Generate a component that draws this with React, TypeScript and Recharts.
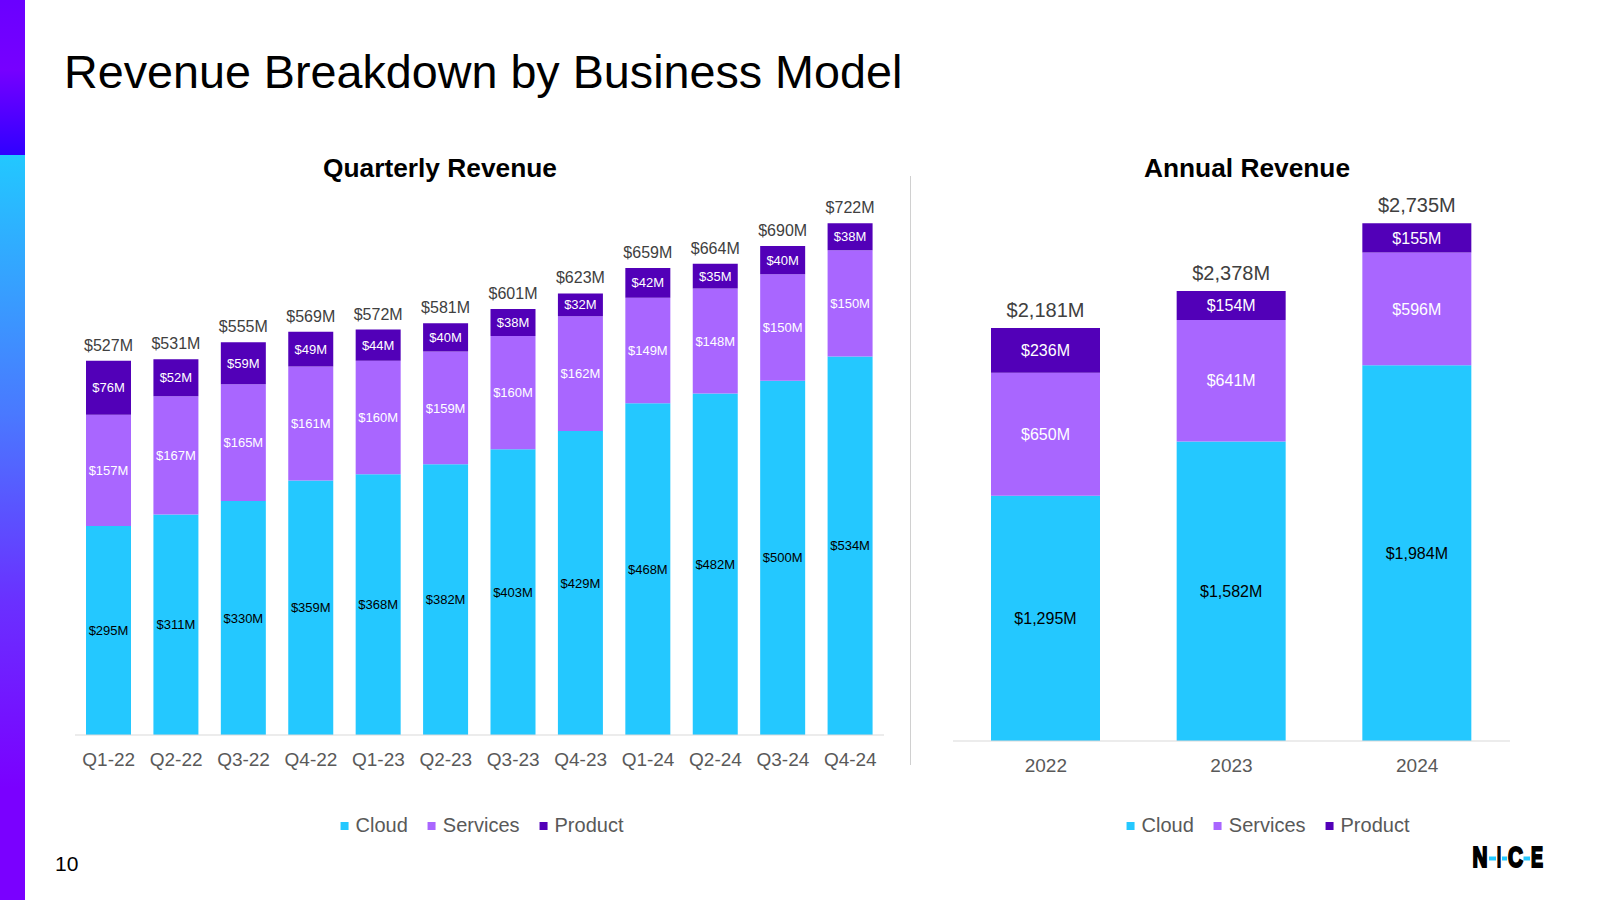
import { Bar, BarChart, LabelList, XAxis, YAxis } from "recharts";

const quarters = ["Q1-22", "Q2-22", "Q3-22", "Q4-22", "Q1-23", "Q2-23", "Q3-23", "Q4-23", "Q1-24", "Q2-24", "Q3-24", "Q4-24"];
const qCloud = [295, 311, 330, 359, 368, 382, 403, 429, 468, 482, 500, 534];
const qServices = [157, 167, 165, 161, 160, 159, 160, 162, 149, 148, 150, 150];
const qProduct = [76, 52, 59, 49, 44, 40, 38, 32, 42, 35, 40, 38];
const qTotal = [527, 531, 555, 569, 572, 581, 601, 623, 659, 664, 690, 722];

const years = ["2022", "2023", "2024"];
const yCloud = [1295, 1582, 1984];
const yServices = [650, 641, 596];
const yProduct = [236, 154, 155];
const yTotal = [2181, 2378, 2735];

const CLOUD = "#24c8ff";
const SERVICES = "#a966ff";
const PRODUCT = "#5200b8";
const FONT = "'Liberation Sans', Arial, sans-serif";

const quarterlyData = quarters.map((name, i) => ({
  name,
  cloud: qCloud[i],
  services: qServices[i],
  product: qProduct[i],
  total: qTotal[i],
}));

const annualData = years.map((name, i) => ({
  name,
  cloud: yCloud[i],
  services: yServices[i],
  product: yProduct[i],
  total: yTotal[i],
}));

const fmt = (v: any) => "$" + Number(v).toLocaleString("en-US") + "M";

function SeriesLegend({ center }: { center: number }) {
  const items = [
    { name: "Cloud", color: CLOUD },
    { name: "Services", color: SERVICES },
    { name: "Product", color: PRODUCT },
  ];
  return (
    <div
      style={{
        position: "absolute",
        left: center,
        top: 814,
        transform: "translateX(-50%)",
        display: "flex",
        gap: 20,
        fontSize: 20,
        color: "#595959",
        whiteSpace: "nowrap",
      }}
    >
      {items.map((it) => (
        <div key={it.name} style={{ display: "flex", alignItems: "center", gap: 7 }}>
          <span style={{ width: 8, height: 8, background: it.color, display: "inline-block" }} />
          <span>{it.name}</span>
        </div>
      ))}
    </div>
  );
}

export default function App() {
  return (
    <div
      style={{
        position: "fixed",
        left: 0,
        top: 0,
        width: 1600,
        height: 900,
        background: "#fff",
        fontFamily: FONT,
        overflow: "hidden",
      }}
    >
      {/* left accent strip */}
      <div
        style={{
          position: "absolute",
          left: 0,
          top: 0,
          width: 25,
          height: 155,
          background: "linear-gradient(#6a00ff, #7600ff 45%, #3000ff)",
        }}
      />
      <div
        style={{
          position: "absolute",
          left: 0,
          top: 155,
          width: 25,
          height: 745,
          background: "linear-gradient(#22c8ff, #4a78ff 35%, #6a30ff 60%, #7a00ff 85%)",
        }}
      />

      <div style={{ position: "absolute", left: 64, top: 45, fontSize: 46.7, color: "#000" }}>
        Revenue Breakdown by Business Model
      </div>

      <div
        style={{
          position: "absolute",
          left: 440,
          top: 153,
          transform: "translateX(-50%)",
          fontSize: 26.3,
          fontWeight: 700,
          whiteSpace: "nowrap",
        }}
      >
        Quarterly Revenue
      </div>
      <div
        style={{
          position: "absolute",
          left: 1247,
          top: 153,
          transform: "translateX(-50%)",
          fontSize: 26.3,
          fontWeight: 700,
          whiteSpace: "nowrap",
        }}
      >
        Annual Revenue
      </div>

      <div style={{ position: "absolute", left: 0, top: 0 }}>
        <BarChart
          width={910}
          height={800}
          data={quarterlyData}
          margin={{ top: 168, left: 75, right: 26, bottom: 35 }}
        >
          <XAxis
            dataKey="name"
            height={30}
            tickLine={false}
            axisLine={{ stroke: "#d9d9d9" }}
            tickMargin={12}
            tick={{ fontSize: 19, fill: "#595959" }}
            interval={0}
          />
          <YAxis hide domain={[0, 800]} />
          <Bar dataKey="cloud" stackId="a" fill={CLOUD} barSize={45} isAnimationActive={false}>
            <LabelList dataKey="cloud" position="center" fill="#000" fontSize={13} formatter={fmt} />
          </Bar>
          <Bar dataKey="services" stackId="a" fill={SERVICES} barSize={45} isAnimationActive={false}>
            <LabelList dataKey="services" position="center" fill="#fff" fontSize={13} formatter={fmt} />
          </Bar>
          <Bar dataKey="product" stackId="a" fill={PRODUCT} barSize={45} isAnimationActive={false}>
            <LabelList dataKey="product" position="center" fill="#fff" fontSize={13} formatter={fmt} />
            <LabelList dataKey="total" position="top" offset={10} fill="#404040" fontSize={16} formatter={fmt} />
          </Bar>
        </BarChart>
      </div>

      {/* divider */}
      <div style={{ position: "absolute", left: 910, top: 176, width: 1, height: 589, background: "#d0d0d0" }} />

      <div style={{ position: "absolute", left: 910, top: 0 }}>
        <BarChart
          width={690}
          height={800}
          data={annualData}
          margin={{ top: 173, left: 43, right: 90, bottom: 29 }}
        >
          <XAxis
            dataKey="name"
            height={30}
            tickLine={false}
            axisLine={{ stroke: "#d9d9d9" }}
            tickMargin={12}
            tick={{ fontSize: 19, fill: "#595959" }}
          />
          <YAxis hide domain={[0, 3000]} />
          <Bar dataKey="cloud" stackId="a" fill={CLOUD} barSize={109} isAnimationActive={false}>
            <LabelList dataKey="cloud" position="center" fill="#000" fontSize={16} formatter={fmt} />
          </Bar>
          <Bar dataKey="services" stackId="a" fill={SERVICES} barSize={109} isAnimationActive={false}>
            <LabelList dataKey="services" position="center" fill="#fff" fontSize={16} formatter={fmt} />
          </Bar>
          <Bar dataKey="product" stackId="a" fill={PRODUCT} barSize={109} isAnimationActive={false}>
            <LabelList dataKey="product" position="center" fill="#fff" fontSize={16} formatter={fmt} />
            <LabelList dataKey="total" position="top" offset={11} fill="#404040" fontSize={20} formatter={fmt} />
          </Bar>
        </BarChart>
      </div>

      <SeriesLegend center={482} />
      <SeriesLegend center={1268} />

      <div style={{ position: "absolute", left: 55, top: 852, fontSize: 21, color: "#000" }}>10</div>

      {/* logo */}
      <svg style={{ position: "absolute", left: 1466, top: 840 }} width={84} height={34}>
        <g
          fontFamily={FONT}
          fontWeight={700}
          fontSize={29}
          fill="#000"
          stroke="#000"
          strokeWidth={2.2}
          strokeLinejoin="miter"
        >
          <text x={6.5} y={27} textLength={15} lengthAdjust="spacingAndGlyphs">N</text>
          <text x={31} y={27} textLength={4} lengthAdjust="spacingAndGlyphs">I</text>
          <text x={42} y={27} textLength={15} lengthAdjust="spacingAndGlyphs">C</text>
          <text x={65} y={27} textLength={12} lengthAdjust="spacingAndGlyphs">E</text>
        </g>
        <rect x={23} y={16.5} width={7} height={4} fill={CLOUD} />
        <rect x={36} y={16.5} width={5} height={4} fill={CLOUD} />
        <rect x={57.5} y={16.5} width={6.5} height={4} fill={CLOUD} />
      </svg>
    </div>
  );
}
